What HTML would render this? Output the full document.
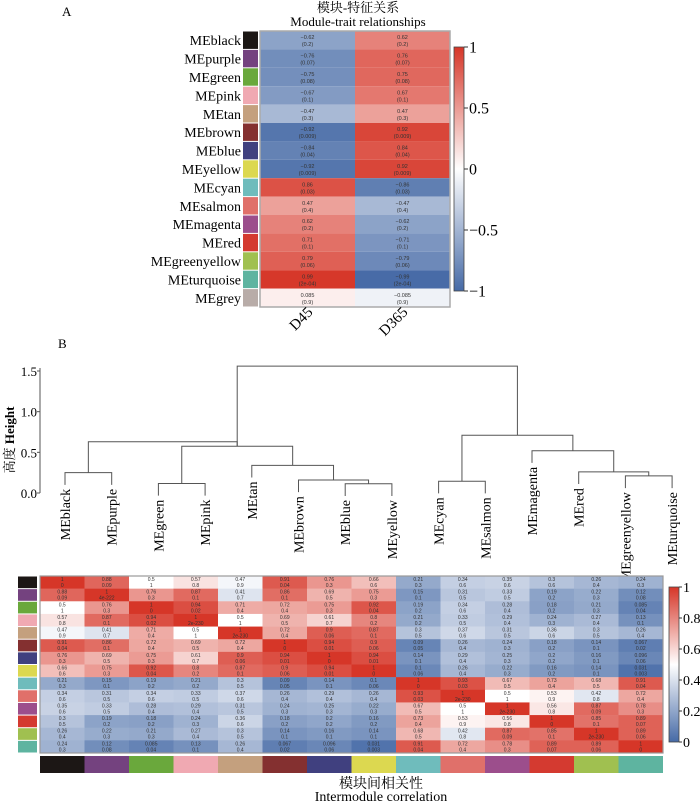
<!DOCTYPE html>
<html><head><meta charset="utf-8"><style>
html,body{margin:0;padding:0;background:#fff;}
svg{display:block;font-family:"Liberation Serif","Noto Serif CJK SC","Noto Sans CJK SC",serif;}
</style></head><body>
<svg id="fig" width="700" height="802" viewBox="0 0 700 802" xmlns="http://www.w3.org/2000/svg">
<text x="62" y="16" font-size="13">A</text>
<text x="358" y="12" font-size="13" text-anchor="middle">模块-特征关系</text>
<text x="358" y="26" font-size="13" text-anchor="middle">Module-trait relationships</text>
<text x="58" y="348" font-size="13">B</text>
<text transform="translate(14,440) rotate(-90)" font-size="13" text-anchor="middle">高度 <tspan font-weight="bold">Height</tspan></text>
<text x="381" y="788" font-size="14" text-anchor="middle">模块间相关性</text>
<text x="381" y="801" font-size="14" text-anchor="middle">Intermodule correlation</text>
<g id="gA"></g><g id="gB"></g><g id="gC"></g>
</svg>
<script>
const modules = ["MEblack","MEpurple","MEgreen","MEpink","MEtan","MEbrown","MEblue","MEyellow","MEcyan","MEsalmon","MEmagenta","MEred","MEgreenyellow","MEturquoise","MEgrey"];
const moduleColors = ["#1c1715","#74427f","#6aa83c","#f0a9b2","#c4a07e","#843030","#40407f","#dcd850","#6fbcbc","#e0706a","#9c4e8c","#d43a30","#a0c050","#5eb4a0","#b8aca8"];
const traits = ["D45","D365"];
const corD45 = [-0.62,-0.76,-0.75,-0.67,-0.47,-0.92,-0.84,-0.92,0.86,0.47,0.62,0.71,0.79,0.99,0.085];
const pD45 = ["0.2","0.07","0.08","0.1","0.3","0.009","0.04","0.009","0.03","0.4","0.2","0.1","0.06","2e-04","0.9"];
const corD365 = [0.62,0.76,0.75,0.67,0.47,0.92,0.84,0.92,-0.86,-0.47,-0.62,-0.71,-0.79,-0.99,-0.085];
const pD365 = ["0.2","0.07","0.08","0.1","0.3","0.009","0.04","0.009","0.03","0.4","0.2","0.1","0.06","2e-04","0.9"];
const ticksA = [1,0.5,0,-0.5,-1];
const tickLabelsA = ["1","0.5","0","\u22120.5","\u22121"];
// dendrogram
const leafOrder = ["MEblack","MEpurple","MEgreen","MEpink","MEtan","MEbrown","MEblue","MEyellow","MEcyan","MEsalmon","MEmagenta","MEred","MEgreenyellow","MEturquoise"];
const mergeLeft = ["MEblack","MEgreen","MEblue","MEbrown","MEtan","c2","c1","MEcyan","MEgreenyellow","MEred","MEmagenta","c8","c6"];
const mergeRight = ["MEpurple","MEpink","MEyellow","c3","c4","c5","c6","MEsalmon","MEturquoise","c9","c10","c11","c12"];
const mergeHeight = [0.25,0.117,0.113,0.16,0.34,0.575,0.63,0.145,0.21,0.26,0.52,0.71,1.56];
const ticksB = [0,0.5,1,1.5];
const tickLabelsB = ["0.0","0.5","1.0","1.5"];
// intermodule correlation
const cmods = modules.slice(0,14);
const corC = [
[1,.88,.5,.57,.47,.91,.76,.66,.21,.34,.35,.3,.26,.24],
[.88,1,.76,.87,.41,.86,.69,.75,.15,.31,.33,.19,.22,.12],
[.5,.76,1,.94,.71,.72,.75,.92,.19,.34,.28,.18,.21,.085],
[.57,.87,.94,1,.5,.69,.61,.8,.21,.33,.29,.24,.27,.13],
[.47,.41,.71,.5,1,.72,.9,.87,.3,.37,.31,.36,.3,.26],
[.91,.86,.72,.69,.72,1,.94,.9,.09,.26,.24,.18,.14,.067],
[.76,.69,.75,.61,.9,.94,1,.94,.14,.29,.25,.2,.16,.096],
[.66,.75,.92,.8,.87,.9,.94,1,.1,.26,.22,.16,.14,.031],
[.21,.15,.19,.21,.3,.09,.14,.1,1,.93,.67,.73,.68,.91],
[.34,.31,.34,.33,.37,.26,.29,.26,.93,1,.5,.53,.42,.72],
[.35,.33,.28,.29,.31,.24,.25,.22,.67,.5,1,.56,.87,.78],
[.3,.19,.18,.24,.36,.18,.2,.16,.73,.53,.56,1,.85,.89],
[.26,.22,.21,.27,.3,.14,.16,.14,.68,.42,.87,.85,1,.89],
[.24,.12,.085,.13,.26,.067,.096,.031,.91,.72,.78,.89,.89,1]];
const pC = [
["0",".09","1",".8",".9",".04",".3",".6",".3",".6",".6",".6",".4",".3"],
[".09","4e-222",".3",".1",".7",".1",".5",".3",".1",".5",".5",".2",".3",".08"],
["1",".3","0",".02",".4",".4",".3",".04",".2",".6",".4",".2",".3",".04"],
[".8",".1",".02","2e-230","1",".5",".7",".2",".2",".5",".4",".3",".4",".1"],
[".9",".7",".4","1","2e-230",".4",".06",".1",".5",".6",".5",".6",".5",".4"],
[".04",".1",".4",".5",".4","0",".01",".06",".05",".4",".3",".2",".1",".02"],
[".3",".5",".3",".7",".06",".01","0",".01",".1",".4",".3",".2",".1",".06"],
[".6",".3",".04",".2",".1",".06",".01","0",".06",".4",".3",".2",".1",".003"],
[".3",".1",".2",".2",".5",".05",".1",".06","0",".03",".5",".4",".5",".04"],
[".6",".5",".6",".5",".6",".4",".4",".4",".03","2e-230","1",".9",".8",".4"],
[".6",".5",".4",".4",".5",".3",".3",".3",".5","1","2e-230",".8",".09",".3"],
[".5",".2",".2",".3",".6",".2",".2",".2",".4",".9",".8","0",".1",".07"],
[".4",".3",".3",".4",".5",".1",".1",".1",".5",".8",".09",".1","2e-230",".06"],
[".3",".08",".04",".1",".4",".02",".06",".003",".04",".4",".3",".07",".06","0"]];
const ticksC = [1,0.8,0.6,0.4,0.2,0];
const tickLabelsC = ["1","0.8","0.6","0.4","0.2","0"];

const NS="http://www.w3.org/2000/svg";
function mk(parent,tag,attrs,text){const e=document.createElementNS(NS,tag);for(const k in attrs)e.setAttribute(k,attrs[k]);if(text!==undefined)e.textContent=text;parent.appendChild(e);return e;}
function lerp(a,b,t){return Math.round(a+(b-a)*t);}
const cLow=[70,106,166],cMid=[255,255,255],cHigh=[214,54,40];
function col(t){
 t=Math.max(0,Math.min(1,t));
 let a,b,u; if(t<0.5){a=cLow;b=cMid;u=t/0.5;}else{a=cMid;b=cHigh;u=(t-0.5)/0.5;}
 return `rgb(${lerp(a[0],b[0],u)},${lerp(a[1],b[1],u)},${lerp(a[2],b[2],u)})`;}
function fmt(v){let s=String(v);return s.replace("-","\u2212");}

// ---- Panel A ----
const gA=document.getElementById('gA');
const ax0=260,ax1=450,ay0=31,ay1=307;
const nA=modules.length,rhA=(ay1-ay0)/nA,cwA=(ax1-ax0)/2;
const yA=i=>ay0+i*rhA, xA=j=>ax0+j*cwA;
const corA=[corD45,corD365], pA=[pD45,pD365];
for(let i=0;i<nA;i++){
 let t=mk(gA,'text',{x:241,y:yA(i)+rhA/2+5,'font-size':14,'text-anchor':'end'},modules[i]);
 
 
 let r=mk(gA,'rect',{x:243,y:yA(i)+0.5,width:15,height:rhA-1,fill:moduleColors[i]});
 
 
 for(let j=0;j<2;j++){
  const v=corA[j][i];
  let c=mk(gA,'rect',{x:xA(j),y:yA(i),width:cwA,height:rhA,fill:col((v+1)/2)});
  
  
  mk(gA,'text',{x:xA(j)+cwA/2,y:yA(i)+rhA/2-1,'font-size':5.5,'text-anchor':'middle','font-family':'Liberation Sans, sans-serif',fill:'#333'},fmt(v));
  mk(gA,'text',{x:xA(j)+cwA/2,y:yA(i)+rhA/2+6,'font-size':5.5,'text-anchor':'middle','font-family':'Liberation Sans, sans-serif',fill:'#333'},'('+pA[j][i]+')');
 }
}
mk(gA,'rect',{x:ax0,y:ay0,width:ax1-ax0,height:ay1-ay0,fill:'none',stroke:'#aaa','stroke-width':1.5});
for(let j=0;j<2;j++){
 let t=mk(gA,'text',{transform:`translate(${xA(j)+cwA/2+6},${313}) rotate(-45)`,'font-size':15,'text-anchor':'end'},traits[j]);
 
 
}
const cbAy0=47,cbAy1=291;
const defs=mk(document.getElementById('fig'),'defs',{});
const gradA=mk(defs,'linearGradient',{id:'gradA',x1:0,y1:1,x2:0,y2:0});
for(let k=0;k<=10;k++)mk(gradA,'stop',{offset:k/10,'stop-color':col(k/10)});
let cbA=mk(gA,'rect',{x:454,y:cbAy0,width:10,height:cbAy1-cbAy0,fill:'url(#gradA)',stroke:'#444','stroke-width':0.8});


const yCbA=v=>cbAy1-(v+1)/2*(cbAy1-cbAy0);
ticksA.forEach((v,k)=>{mk(gA,'line',{x1:464,x2:468,y1:yCbA(v),y2:yCbA(v),stroke:'#333'});
 let t=mk(gA,'text',{x:469,y:yCbA(v)+5.5,'font-size':16},tickLabelsA[k]);
 
 });

// ---- Panel B dendrogram ----
const gB=document.getElementById('gB');
const yB=v=>493-v*(493-371)/1.5;
const xLeaf=i=>65+i*46.7;
const posX={},topH={};
leafOrder.forEach((nm,i)=>{posX[nm]=xLeaf(i);});
const leafTop={};
mergeLeft.forEach((a,k)=>{const h=mergeHeight[k];[a,mergeRight[k]].forEach(nm=>{if(!nm.startsWith('c'))leafTop[nm]=h;});});
mergeLeft.forEach((a,k)=>{
 const b=mergeRight[k],h=mergeHeight[k];
 const bottom=nm=>nm.startsWith('c')?yB(topH[nm]):yB(leafTop[nm]-0.15);
 const xa=posX[a],xb=posX[b];
 let p=mk(gB,'path',{d:`M${xa},${bottom(a)}V${yB(h)}H${xb}V${bottom(b)}`,fill:'none',stroke:'#555','stroke-width':1});
 
 
 const id='c'+(k+1);posX[id]=(xa+xb)/2;topH[id]=h;
});
leafOrder.forEach((nm,i)=>{
 let t=mk(gB,'text',{transform:`translate(${xLeaf(i)+5},${yB(leafTop[nm]-0.15)+4}) rotate(-90)`,'font-size':14,'text-anchor':'end'},nm);
 
 
});
mk(gB,'line',{x1:40,x2:40,y1:368,y2:493,stroke:'#555'});
ticksB.forEach((v,k)=>{mk(gB,'line',{x1:37,x2:40,y1:yB(v),y2:yB(v),stroke:'#555'});
 let t=mk(gB,'text',{x:37,y:yB(v)+5,'font-size':13,'text-anchor':'end'},tickLabelsB[k]);
 
 });

// ---- Panel C ----
const gC=document.getElementById('gC');
const cx0=40,cx1=663,cy0=576,cy1=753,nC=cmods.length;
const cw=(cx1-cx0)/nC,ch=(cy1-cy0)/nC;
const xC=j=>cx0+j*cw,yC=i=>cy0+i*ch;
for(let i=0;i<nC;i++){
 let r=mk(gC,'rect',{x:18,y:yC(i)+0.5,width:19,height:ch-1,fill:moduleColors[i]});
 
 
 let b=mk(gC,'rect',{x:xC(i),y:756,width:cw,height:17,fill:moduleColors[i]});
 
 
 for(let j=0;j<nC;j++){
  const v=corC[i][j];
  let c=mk(gC,'rect',{x:xC(j),y:yC(i),width:cw+0.3,height:ch+0.3,fill:col(v)});
  
  
  mk(gC,'text',{x:xC(j)+cw/2,y:yC(i)+5,'font-size':5,'text-anchor':'middle','font-family':'Liberation Sans, sans-serif',fill:'#333'},String(v));
  mk(gC,'text',{x:xC(j)+cw/2,y:yC(i)+11,'font-size':5,'text-anchor':'middle','font-family':'Liberation Sans, sans-serif',fill:'#333'},pC[i][j].replace(/^\./,'0.'));
 }
}
mk(gC,'rect',{x:cx0,y:cy0,width:cx1-cx0,height:cy1-cy0,fill:'none',stroke:'#999','stroke-width':1.2});
const gradC=mk(defs,'linearGradient',{id:'gradC',x1:0,y1:1,x2:0,y2:0});
for(let k=0;k<=10;k++)mk(gradC,'stop',{offset:k/10,'stop-color':col(k/10)});
const cbCy0=587,cbCy1=742;
let cbC=mk(gC,'rect',{x:669,y:cbCy0,width:10,height:cbCy1-cbCy0,fill:'url(#gradC)',stroke:'#444','stroke-width':0.8});


const yCbC=v=>cbCy1-v*(cbCy1-cbCy0);
ticksC.forEach((v,k)=>{mk(gC,'line',{x1:679,x2:682,y1:yCbC(v),y2:yCbC(v),stroke:'#333'});
 let t=mk(gC,'text',{x:683,y:yCbC(v)+5,'font-size':14},tickLabelsC[k]);
 
 });
</script>
</body></html>
